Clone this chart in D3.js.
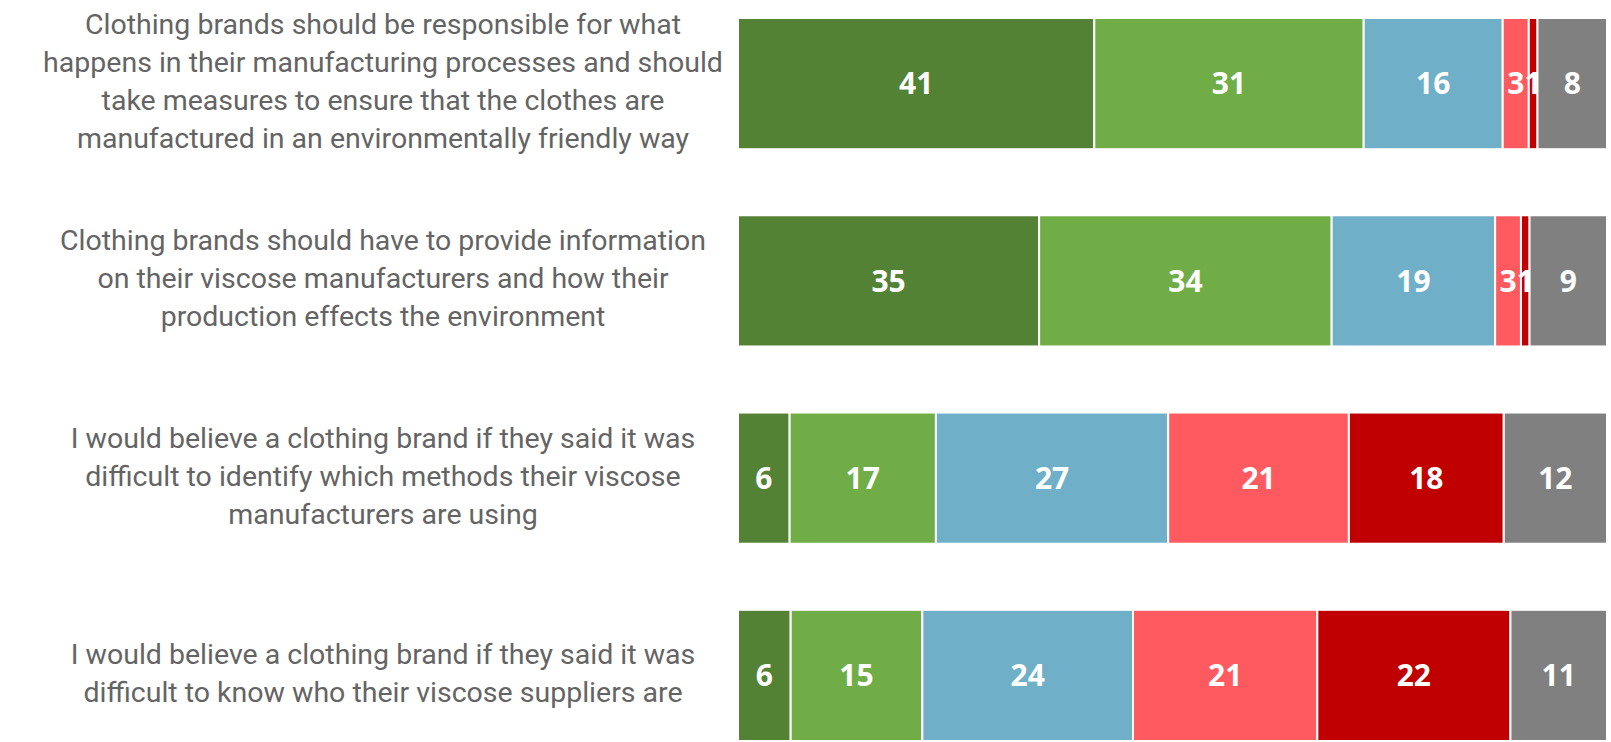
<!DOCTYPE html>
<html>
<head>
<meta charset="utf-8">
<script src="https://cdn.jsdelivr.net/npm/d3@7"></script>
<style>
  html, body { margin: 0; padding: 0; background: #ffffff; }
  svg { display: block; }
</style>
</head>
<body>
<svg id="chart" width="1611" height="742"></svg>
<script>
// Statements (wrapped into display lines)
const categories = [
  ["Clothing brands should be responsible for what",
   "happens in their manufacturing processes and should",
   "take measures to ensure that the clothes are",
   "manufactured in an environmentally friendly way"],
  ["Clothing brands should have to provide information",
   "on their viscose manufacturers and how their",
   "production effects the environment"],
  ["I would believe a clothing brand if they said it was",
   "difficult to identify which methods their viscose",
   "manufacturers are using"],
  ["I would believe a clothing brand if they said it was",
   "difficult to know who their viscose suppliers are"]
];

// Response shares (%) per statement
const stronglyAgree    = [41, 35, 6, 6];
const tendToAgree      = [31, 34, 17, 15];
const neither          = [16, 19, 27, 24];
const tendToDisagree   = [3, 3, 21, 21];
const stronglyDisagree = [1, 1, 18, 22];
const dontKnow         = [8, 9, 12, 11];

const seriesKeys = ["stronglyAgree", "tendToAgree", "neither", "tendToDisagree", "stronglyDisagree", "dontKnow"];
const seriesValues = [stronglyAgree, tendToAgree, neither, tendToDisagree, stronglyDisagree, dontKnow];
const seriesColors = ["#548235", "#70AD47", "#6FB0C8", "#FF5A5F", "#C00000", "#808080"];

const rows = categories.map((lines, i) => {
  const r = { id: i };
  seriesKeys.forEach((k, j) => { r[k] = seriesValues[j][i]; });
  return r;
});

const svg = d3.select("#chart");

// each bar fills the full width (100% stacked)
const stacked = d3.stack().keys(seriesKeys).offset(d3.stackOffsetExpand)(rows);

const x = d3.scaleLinear().domain([0, 1]).range([738, 1607]);
const y = d3.scaleBand().domain(rows.map(r => r.id)).range([18, 741]).paddingInner(0.335).paddingOuter(0);
const color = d3.scaleOrdinal().domain(seriesKeys).range(seriesColors);

const layers = svg.append("g").selectAll("g")
  .data(stacked)
  .join("g")
  .attr("fill", d => color(d.key));

layers.selectAll("rect")
  .data(d => d.map(p => Object.assign(p, { key: d.key })))
  .join("rect")
  .attr("x", d => x(d[0]))
  .attr("y", d => y(d.data.id))
  .attr("width", d => Math.max(0, x(d[1]) - x(d[0])))
  .attr("height", y.bandwidth())
  .attr("stroke", "#ffffff")
  .attr("stroke-width", 2);

// value labels
svg.append("g").selectAll("g")
  .data(stacked)
  .join("g")
  .selectAll("text")
  .data(d => d)
  .join("text")
  .attr("x", d => (x(d[0]) + x(d[1])) / 2)
  .attr("y", d => y(d.data.id) + y.bandwidth() / 2)
  .attr("dy", "0.36em")
  .attr("text-anchor", "middle")
  .attr("fill", "#ffffff")
  .attr("font-family", "'Open Sans', 'Liberation Sans', sans-serif")
  .attr("font-weight", 700)
  .attr("font-size", 30)
  .text(d => d.data[d.key]);

// category labels, centred beside each bar
const lineH = 38;
const cat = svg.append("g").selectAll("text")
  .data(categories)
  .join("text")
  .attr("text-anchor", "middle")
  .attr("fill", "#646464")
  .attr("font-family", "Roboto, 'Liberation Sans', sans-serif")
  .attr("font-size", 28.5);

cat.selectAll("tspan")
  .data((lines, i) => lines.map((t, k) => ({ t, k, n: lines.length, i })))
  .join("tspan")
  .attr("x", 383)
  .attr("y", d => y(d.i) + y.bandwidth() / 2 - 2.5 + (d.k - (d.n - 1) / 2) * lineH)
  .attr("dy", "0.35em")
  .text(d => d.t);
</script>
</body>
</html>
